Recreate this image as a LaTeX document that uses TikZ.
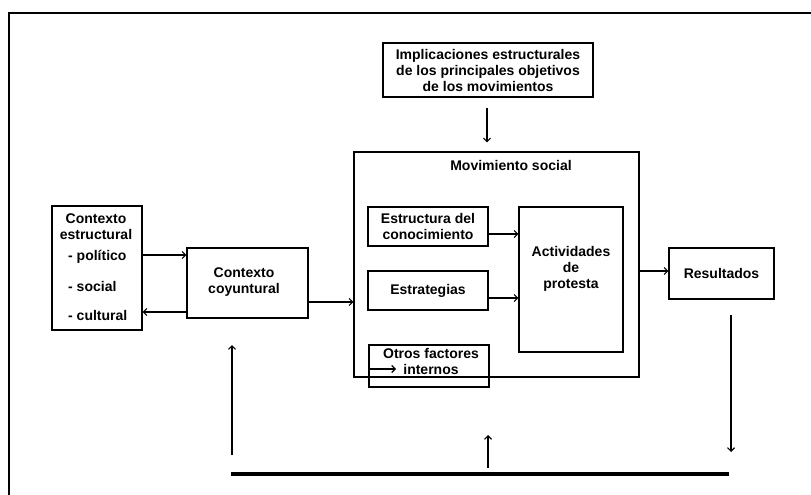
\documentclass[tikz,border=0pt]{standalone}
\usepackage{fontspec}
\setmainfont{Liberation Sans}
\usetikzlibrary{arrows.meta}
\begin{document}
\begin{tikzpicture}[x=1pt,y=-1pt,
  txt/.style={font=\bfseries\fontsize{14}{16}\selectfont, align=center, inner sep=0pt},
  box/.style={draw, line width=1.3pt, inner sep=0pt, font=\bfseries\fontsize{14}{16}\selectfont, align=center},
  arr/.style={line width=1.1pt, -{Straight Barb[length=3.5pt,width=7pt,line width=1.1pt]}},
  frame/.style={line width=2.8pt},
  base/.style={line width=3.1pt}]
\useasboundingbox (0,0) rectangle (811,495);
% outer frame
\draw[frame] (9,497) -- (9,13) -- (813,13);
% boxes
\node[box, minimum width=210pt, minimum height=54pt] (impl) at (488,70)
  {Implicaciones estructurales\\de los principales objetivos\\de los movimientos};
\node[box, minimum width=285pt, minimum height=225pt] (mov) at (496.5,264.5) {};
\node[txt] (movt) at (511,165) {Movimiento social};
\node[box, minimum width=120pt, minimum height=39pt] (conoc) at (428,226.5) {Estructura del\\conocimiento};
\node[box, minimum width=120pt, minimum height=39pt] (estrat) at (428,290.5) {Estrategias};
\node[box, minimum width=104pt, minimum height=145pt] (activ) at (571,279.5) {};
\node[txt] (activt) at (571,269) {Actividades\\de\\protesta};
\node[box, minimum width=120pt, minimum height=42pt] (otros) at (429,366) {};
\node[txt] (otrost) at (431,361.5) {Otros factores\\internos};
\node[box, minimum width=90pt, minimum height=124pt] (estr) at (97,268) {};
\node[txt] (estrt) at (96,226.5) {Contexto\\estructural};
\node[txt, anchor=west] (pol) at (68,257) {- político};
\node[txt, anchor=west] (soc) at (68,286) {- social};
\node[txt, anchor=west] (cul) at (68,315) {- cultural};
\node[box, minimum width=121pt, minimum height=70pt] (coy) at (247.5,283) {};
\node[txt] (coyt) at (244,282.5) {Contexto\\coyuntural};
\node[box, minimum width=105pt, minimum height=51pt] (res) at (721.5,273.5) {Resultados};
% helper levels
\coordinate (y1) at (0,255);
\coordinate (y2) at (0,312);
\coordinate (y3) at (0,302);
\coordinate (y4) at (0,234);
\coordinate (y5) at (0,298);
\coordinate (y6) at (0,271);
\coordinate (y7) at (0,369);
% connectors
\draw[arr] (estr.east |- y1) -- (coy.west |- y1);
\draw[arr] (coy.west |- y2) -- (estr.east |- y2);
\draw[arr] (coy.east |- y3) -- (mov.west |- y3);
\draw[arr] (conoc.east |- y4) -- (activ.west |- y4);
\draw[arr] (estrat.east |- y5) -- (activ.west |- y5);
\draw[arr] (mov.east |- y6) -- (res.west |- y6);
\coordinate (oin) at (396,369);
\draw[arr] (otros.west |- y7) -- (oin);
\draw[arr, shorten <=10pt, shorten >=9pt] (impl.south -| 487,0) -- (mov.north -| 487,0);
% feedback
\coordinate (bl) at (231,474);
\coordinate (br) at (729,474);
\draw[base] (bl) -- (br);
\coordinate (rd0) at (731,315);
\coordinate (rd1) at (731,452);
\draw[arr] (rd0) -- (rd1);
\coordinate (lu0) at (232,455);
\coordinate (lu1) at (232,345);
\draw[arr] (lu0) -- (lu1);
\coordinate (mu0) at (488,468);
\coordinate (mu1) at (488,435);
\draw[arr] (mu0) -- (mu1);
\end{tikzpicture}
\end{document}
